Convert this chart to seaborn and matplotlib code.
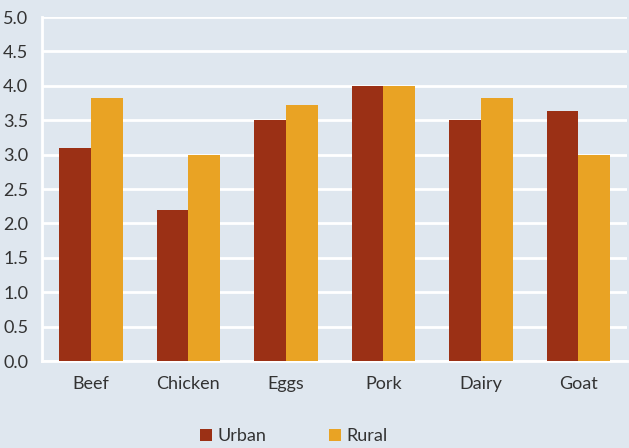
import pandas as pd
import matplotlib
matplotlib.use("Agg")
import matplotlib.pyplot as plt
import seaborn as sns

# --- data ---
categories = ["Beef", "Chicken", "Eggs", "Pork", "Dairy", "Goat"]
urban = [3.1, 2.2, 3.5, 4.0, 3.5, 3.63]
rural = [3.82, 3.0, 3.72, 4.0, 3.82, 3.0]
series_names = ["Urban", "Rural"]
yticks = [0.0, 0.5, 1.0, 1.5, 2.0, 2.5, 3.0, 3.5, 4.0, 4.5, 5.0]

df = pd.DataFrame({
    "category": categories * 2,
    "value": urban + rural,
    "area": [series_names[0]] * len(categories) + [series_names[1]] * len(categories),
})

bg = "#dfe7ef"
text_col = "#333333"
palette = {"Urban": "#9b3015", "Rural": "#e9a324"}

sns.set_style("white")
plt.rcParams["font.family"] = ["Lato", "DejaVu Sans"]

fig = plt.figure(figsize=(6.29, 4.48), dpi=100, facecolor=bg)
ax = fig.add_axes([0.067, 0.194, 0.93, 0.768])
ax.set_facecolor(bg)

sns.barplot(data=df, x="category", y="value", hue="area", palette=palette,
            width=0.65, saturation=1, linewidth=0, ax=ax, legend=True, zorder=3)

ax.set_ylim(0, 5.0)
ax.set_yticks(yticks)
ax.set_yticklabels([f"{t:.1f}" for t in yticks])
ax.yaxis.grid(True, color="white", linewidth=2, zorder=0)
ax.set_axisbelow(True)
ax.set_xlabel("")
ax.set_ylabel("")
ax.tick_params(axis="both", length=0, labelsize=13, colors=text_col)
ax.tick_params(axis="x", pad=11)
ax.tick_params(axis="y", pad=10)

for side in ["top", "right"]:
    ax.spines[side].set_visible(False)
for side in ["left", "bottom"]:
    ax.spines[side].set_color("white")
    ax.spines[side].set_linewidth(2)

handles, labels = ax.get_legend_handles_labels()
ax.legend_.remove()
fig.legend(handles, labels, loc="center", bbox_to_anchor=(0.467, 0.027),
           ncol=2, frameon=False, fontsize=13, handlelength=0.65,
           handleheight=0.65, handletextpad=0.3, columnspacing=3.5,
           labelcolor=text_col)

fig.savefig("out.png", dpi=100, facecolor=bg)
